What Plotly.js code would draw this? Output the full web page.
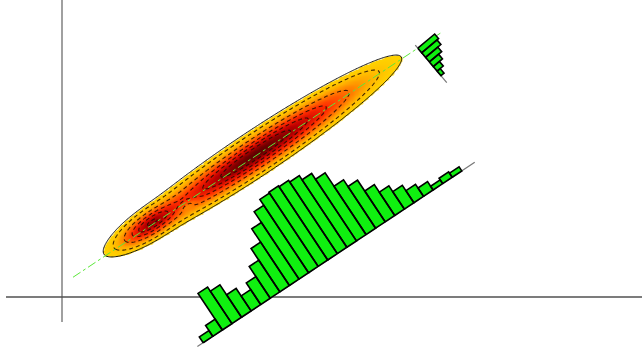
<!DOCTYPE html>
<html><head><meta charset="utf-8">
<script src="https://cdn.plot.ly/plotly-3.0.1.min.js"></script>
<style>html,body{margin:0;padding:0;background:#fff}#chart{width:642px;height:354px}</style>
</head><body><div id="chart"></div>
<script>
// ================= DATA =================
// histogram projected on the principal (major) axis, lower-left -> upper-right
const majorCounts = [7,13,44,39,27,18,26,38,52,68,81,88,89,88,86,81,74,58,50,37,28,21,14.5,10,4.5,6.5,5];
// histogram across the axis (minor direction), from the axis outward
const minorCounts = [22,20,16,12,8,4];
// density components (principal-axis frame, data units)
const compA  = [0.10, -2.42, -1.60];   // position along the axis
const compB  = [0.04,  0.04, -0.05];   // offset across the axis
const compSA = [1.25,  0.36,  0.18];   // spread along the axis
const compSB = [0.16,  0.12,  0.06];   // spread across the axis
const compW  = [1.00,  0.70, -0.18];   // weight
// contour levels (fraction of peak)
const outerLevel = 0.02;
const dashedLevels = [0.06, 0.2, 0.4, 0.6, 0.8];

// ================= GEOMETRY / STYLE =================
const xRange = [-1.24, 11.6], yRange = [-1.14, 5.94];
const C = [3.81, 2.78];               // centre of the distribution
const th = 33.6 * Math.PI / 180;      // principal axis angle
const ux = Math.cos(th), uy = Math.sin(th), vx = -uy, vy = ux;
function P(a, b) { return [C[0] + a*ux + b*vx, C[1] + a*uy + b*vy]; }

// major histogram frame
const hA0 = -2.946, hB0 = -2.532, hS0 = 0.08, hW = 0.23, hK = 0.02;
const hBaseFrom = -0.06, hBaseTo = 6.6;
// minor histogram frame
const mA0 = 3.97, phi = 50 * Math.PI / 180;
const mx = Math.cos(phi), my = -Math.sin(phi);   // baseline direction
const qx = Math.sin(phi), qy = Math.cos(phi);    // bar direction
const mW = 0.12, mK = 0.02, mBaseFrom = -0.08, mBaseTo = 0.9;

const green = '#10f010';

// ================= DENSITY GRID =================
const gx = [], gy = [];
for (let x = 0.5; x <= 7.1; x += 0.025) gx.push(+x.toFixed(4));
for (let y = 0.45; y <= 5.2; y += 0.025) gy.push(+y.toFixed(4));
const Z = gy.map(y => gx.map(x => {
  const dx = x - C[0], dy = y - C[1];
  const a = dx*ux + dy*uy, b = dx*vx + dy*vy;
  let s = 0;
  for (let i = 0; i < compW.length; i++) {
    const ta = (a - compA[i]) / compSA[i], tb = (b - compB[i]) / compSB[i];
    s += compW[i] * Math.exp(-0.5*(ta*ta + tb*tb));
  }
  return s;
}));

const traces = [];
traces.push({
  type: 'heatmap', x: gx, y: gy, z: Z, zsmooth: 'best', zmin: 0, zmax: 1, zauto: false,
  showscale: false, hoverinfo: 'skip',
  colorscale: [[0,'rgba(255,255,255,0)'],[outerLevel-0.0005,'rgba(255,255,255,0)'],[outerLevel,'#ffd400'],
               [0.07,'#ffbc00'],[0.2,'#ff7400'],[0.4,'#ff2a00'],[0.7,'#c20000'],[1,'#600000']]
});
function contourLine(L, color, dash, width) {
  return {type:'contour', x: gx, y: gy, z: Z, autocontour: false, showscale: false, hoverinfo: 'skip',
    contours: {start: L, end: L, size: 1, coloring: 'none'},
    line: {color: color, dash: dash, width: width, smoothing: 1}};
}
dashedLevels.forEach(L => traces.push(contourLine(L, 'rgba(30,10,0,0.85)', '4px,3px', 1.1)));
traces.push(contourLine(outerLevel, '#111', 'solid', 1));

// axis cross
traces.push({type:'scatter', mode:'lines', x:[0,0], y:[yRange[1], -0.5], line:{color:'#808080', width:1.5}, hoverinfo:'skip'});
traces.push({type:'scatter', mode:'lines', x:[-1.12, xRange[1]], y:[0,0], line:{color:'#505050', width:1.3}, hoverinfo:'skip'});

// principal axis
const g0 = P(-4.31, 0), g1 = P(4.55, 0);
traces.push({type:'scatter', mode:'lines', x:[g0[0], g1[0]], y:[g0[1], g1[1]],
  line:{color:'#5be83a', width:1, dash:'dashdot'}, hoverinfo:'skip'});

// major histogram
const b0 = P(hA0 + hBaseFrom, hB0), b1 = P(hA0 + hBaseTo, hB0);
traces.push({type:'scatter', mode:'lines', x:[b0[0], b1[0]], y:[b0[1], b1[1]], line:{color:'#777', width:1.2}, hoverinfo:'skip'});
const hx = [], hy = [];
majorCounts.forEach((c, i) => {
  const s1 = hS0 + i*hW, s2 = s1 + hW, h = c*hK;
  [[s1,0],[s2,0],[s2,h],[s1,h],[s1,0]].forEach(([s,t]) => { const p = P(hA0 + s, hB0 + t); hx.push(p[0]); hy.push(p[1]); });
  hx.push(null); hy.push(null);
});
traces.push({type:'scatter', mode:'lines', x:hx, y:hy, fill:'toself', fillcolor:green,
  line:{color:'#000', width:1.6}, hoverinfo:'skip'});

// minor histogram
const Q = P(mA0, 0);
function M(t, h) { return [Q[0] + t*mx + h*qx, Q[1] + t*my + h*qy]; }
const m0 = M(mBaseFrom, 0), m1 = M(mBaseTo, 0);
traces.push({type:'scatter', mode:'lines', x:[m0[0], m1[0]], y:[m0[1], m1[1]], line:{color:'#777', width:1.2}, hoverinfo:'skip'});
const sx = [], sy = [];
minorCounts.forEach((c, i) => {
  const t1 = i*mW, t2 = t1 + mW, h = c*mK;
  [[t1,0],[t2,0],[t2,h],[t1,h],[t1,0]].forEach(([t,hh]) => { const p = M(t, hh); sx.push(p[0]); sy.push(p[1]); });
  sx.push(null); sy.push(null);
});
traces.push({type:'scatter', mode:'lines', x:sx, y:sy, fill:'toself', fillcolor:green,
  line:{color:'#000', width:1.6}, hoverinfo:'skip'});

const layout = {
  width: 642, height: 354, margin: {l:0, r:0, t:0, b:0},
  paper_bgcolor: '#fff', plot_bgcolor: '#fff', showlegend: false,
  xaxis: {range: xRange, visible: false, fixedrange: true},
  yaxis: {range: yRange, visible: false, fixedrange: true}
};
Plotly.newPlot('chart', traces, layout, {staticPlot: true, displayModeBar: false});
</script></body></html>
